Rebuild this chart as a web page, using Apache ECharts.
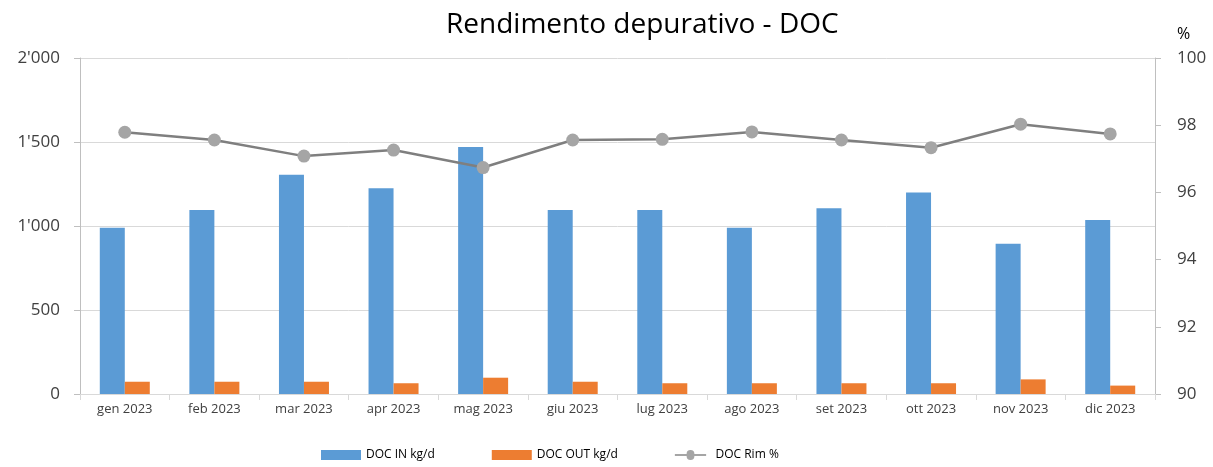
<!DOCTYPE html>
<html>
<head>
<meta charset="utf-8">
<script src="https://cdn.jsdelivr.net/npm/echarts@6/dist/echarts.min.js"></script>
<style>
  html, body { margin: 0; padding: 0; background: #fff; }
  #chart { width: 1213px; height: 467px; }
</style>
</head>
<body>
<div id="chart"></div>
<script>
const months = ['gen 2023', 'feb 2023', 'mar 2023', 'apr 2023', 'mag 2023', 'giu 2023',
  'lug 2023', 'ago 2023', 'set 2023', 'ott 2023', 'nov 2023', 'dic 2023']
const docIn = [990, 1095, 1305, 1224, 1470, 1095, 1095, 990, 1105, 1200, 895, 1036]
const docOut = [73, 73, 73, 64, 97, 73, 64, 64, 64, 64, 87, 50]
const docRim = [97.79, 97.56, 97.08, 97.26, 96.74, 97.56, 97.58, 97.80, 97.56, 97.33, 98.03, 97.74]

const font = 'Open Sans'
const fmtThousands = v => String(v).replace(/\B(?=(\d{3})+(?!\d))/g, "'")

const chart = echarts.init(document.getElementById('chart'))
chart.setOption({
  animation: false,
  textStyle: { fontFamily: font },
  title: {
    text: 'Rendimento depurativo - DOC',
    left: 441,
    top: 6,
    textStyle: { fontFamily: font, fontSize: 28, fontWeight: 'normal', color: '#000' }
  },
  legend: {
    bottom: 1,
    left: 316,
    itemWidth: 40,
    itemHeight: 10,
    itemGap: 57,
    icon: 'rect',
    textStyle: { fontFamily: font, fontSize: 12, color: '#000' },
    data: [
      { name: 'DOC IN kg/d' },
      { name: 'DOC OUT kg/d' },
      { name: 'DOC Rim %', icon: 'path://M0,3.6 L15,3.6 A5,5 0 0 1 25,3.6 L40,3.6 L40,6.4 L25,6.4 A5,5 0 0 1 15,6.4 L0,6.4 Z' }
    ]
  },
  grid: { left: 80, right: 58, top: 58, bottom: 73, containLabel: false },
  xAxis: {
    type: 'category',
    data: months,
    axisLine: { lineStyle: { color: '#d9d9d9', width: 1 } },
    axisTick: { show: true, length: 6, lineStyle: { color: '#d9d9d9' } },
    axisLabel: { fontFamily: font, fontSize: 13, color: '#404040', margin: 9 }
  },
  yAxis: [
    {
      type: 'value',
      min: 0,
      max: 2000,
      interval: 500,
      axisLine: { show: true, lineStyle: { color: '#bfbfbf' } },
      axisTick: { show: true, length: 6, lineStyle: { color: '#bfbfbf' } },
      splitLine: { lineStyle: { color: '#d9d9d9', width: 1 } },
      axisLabel: { fontFamily: font, fontSize: 17, color: '#404040', margin: 20, formatter: fmtThousands }
    },
    {
      type: 'value',
      name: '%',
      nameLocation: 'end',
      nameGap: 16,
      nameTextStyle: { fontFamily: font, fontSize: 16, color: '#000', align: 'left', padding: [0, 0, 0, 22] },
      min: 90,
      max: 100,
      interval: 2,
      axisLine: { show: true, lineStyle: { color: '#bfbfbf' } },
      axisTick: { show: true, length: 6, lineStyle: { color: '#bfbfbf' } },
      splitLine: { show: false },
      axisLabel: { fontFamily: font, fontSize: 17, color: '#404040', margin: 22 }
    }
  ],
  series: [
    {
      name: 'DOC IN kg/d',
      type: 'bar',
      data: docIn,
      barWidth: 25,
      barGap: '0%',
      itemStyle: { color: '#5b9bd5' }
    },
    {
      name: 'DOC OUT kg/d',
      type: 'bar',
      data: docOut,
      barWidth: 25,
      itemStyle: { color: '#ed7d31' }
    },
    {
      name: 'DOC Rim %',
      type: 'line',
      yAxisIndex: 1,
      data: docRim,
      symbol: 'circle',
      symbolSize: 13,
      lineStyle: { color: '#7f7f7f', width: 2.5 },
      itemStyle: { color: '#a5a5a5' }
    }
  ]
})
</script>
</body>
</html>
